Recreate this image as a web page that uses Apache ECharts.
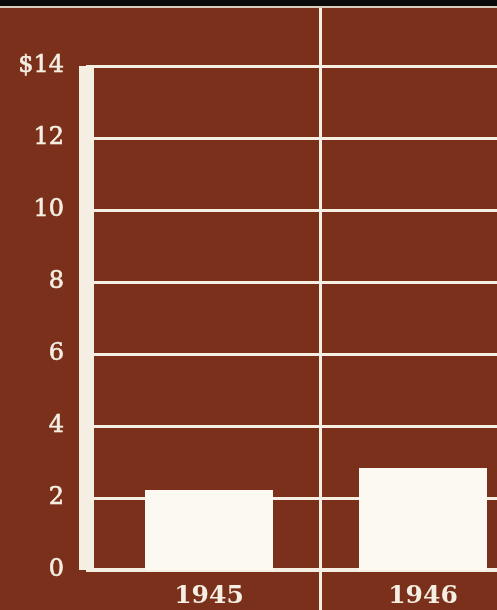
<!DOCTYPE html>
<html>
<head>
<meta charset="utf-8">
<script src="https://cdn.jsdelivr.net/npm/echarts@6/dist/echarts.min.js"></script>
<style>
html,body{margin:0;padding:0;background:#7a2e1a;}
#chart{width:497px;height:610px;}
</style>
</head>
<body>
<div id="chart"></div>
<script>
const years = ['1945', '1946'];
const values = [2.22, 2.83];
const yMin = 0, yMax = 14, yStep = 2;
const yTopLabel = '$14';

const BG = '#7b301b';
const INK = '#f4efe2';
const SERIF = '"DejaVu Serif", "Liberation Serif", serif';

const chart = echarts.init(document.getElementById('chart'), null, {renderer: 'canvas'});
chart.setOption({
  backgroundColor: BG,
  animation: false,
  graphic: [
    {type: 'rect', shape: {x: 0, y: 0, width: 497, height: 6}, style: {fill: '#0b0b0b'}, z: 10},
    {type: 'rect', shape: {x: 0, y: 6, width: 497, height: 2}, style: {fill: '#d9cfc0'}, z: 10}
  ],
  grid: [
    {left: 86, right: 0, top: 66, bottom: 40, outerBoundsMode: 'none', containLabel: false},
    {left: 102, width: 428, top: 66, bottom: 40, outerBoundsMode: 'none', containLabel: false},
    {left: 320, width: 200, top: 8, bottom: 0, outerBoundsMode: 'none', containLabel: false}
  ],
  xAxis: [
    {gridIndex: 0, type: 'value', min: 0, max: 1,
     axisLine: {show: true, onZero: false, lineStyle: {color: INK, width: 4, cap: 'butt'}},
     axisTick: {show: false}, axisLabel: {show: false}, splitLine: {show: false}},
    {gridIndex: 1, type: 'category', data: years, boundaryGap: true,
     axisLine: {show: false}, axisTick: {show: false}, splitLine: {show: false},
     axisLabel: {show: true, color: INK, fontFamily: SERIF, fontSize: 25, fontWeight: 'bold', margin: 14}},
    {gridIndex: 2, type: 'value', min: 0, max: 1, show: false}
  ],
  yAxis: [
    {gridIndex: 0, type: 'value', min: yMin, max: yMax, interval: yStep,
     axisLine: {show: true, lineStyle: {color: INK, width: 15, cap: 'butt'}},
     axisTick: {show: false},
     axisLabel: {color: INK, fontFamily: SERIF, fontSize: 24, margin: 22,
                 padding: [6, 0, 0, 0],
                 textBorderColor: INK, textBorderWidth: 0.6,
                 formatter: function (v) { return v === yMax ? yTopLabel : String(v); }},
     splitLine: {show: true, lineStyle: {color: INK, width: 3}}},
    {gridIndex: 1, type: 'value', min: yMin, max: yMax, interval: yStep, show: false},
    {gridIndex: 2, type: 'value', min: 0, max: 1,
     axisLine: {show: true, onZero: false, lineStyle: {color: INK, width: 3, cap: 'butt'}},
     axisTick: {show: false}, axisLabel: {show: false}, splitLine: {show: false}}
  ],
  series: [
    {type: 'bar', xAxisIndex: 1, yAxisIndex: 1, data: values, barWidth: 128,
     itemStyle: {color: '#fbf9f1'}, z: 5}
  ]
});
</script>
</body>
</html>
